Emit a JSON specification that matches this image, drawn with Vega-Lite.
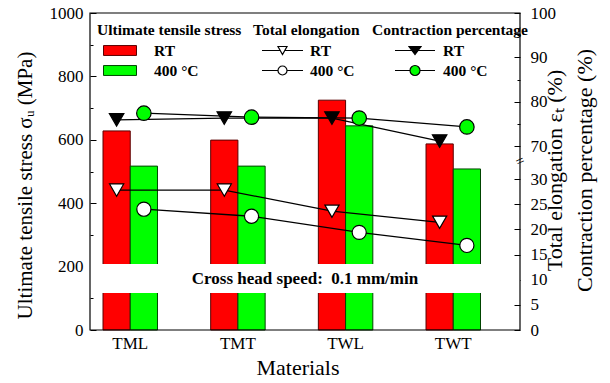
{
  "$schema": "https://vega.github.io/schema/vega-lite/v6.json",
  "width": 430,
  "height": 317,
  "autosize": {"type": "none"},
  "padding": {"left": 90, "top": 13, "right": 90, "bottom": 53},
  "config": {
    "view": {"stroke": null},
    "font": "Liberation Serif",
    "axis": {"labelColor": "black", "titleColor": "black", "tickColor": "black", "tickWidth": 1, "grid": false, "domain": false, "zindex": 1, "titleFontWeight": "normal"},
    "legend": {"labelColor": "black", "titleColor": "black", "labelFont": "Liberation Serif", "titleFont": "Liberation Serif", "labelFontSize": 15.5, "labelFontWeight": "bold", "titleFontSize": 15.5, "titleFontWeight": "bold", "padding": 0, "rowPadding": 0, "clipHeight": 20, "titlePadding": 2, "symbolOpacity": 1}
  },
  "datasets": {
    "bars": [
      {"material": "TML", "condition": "RT", "uts": 628},
      {"material": "TML", "condition": "400 °C", "uts": 517},
      {"material": "TMT", "condition": "RT", "uts": 599},
      {"material": "TMT", "condition": "400 °C", "uts": 517},
      {"material": "TWL", "condition": "RT", "uts": 725},
      {"material": "TWL", "condition": "400 °C", "uts": 644},
      {"material": "TWT", "condition": "RT", "uts": 587},
      {"material": "TWT", "condition": "400 °C", "uts": 508}
    ],
    "elong": [
      {"material": "TML", "condition": "RT", "elongation": 27.8},
      {"material": "TMT", "condition": "RT", "elongation": 27.8},
      {"material": "TWL", "condition": "RT", "elongation": 23.6},
      {"material": "TWT", "condition": "RT", "elongation": 21.4},
      {"material": "TML", "condition": "400 °C", "elongation": 24.0},
      {"material": "TMT", "condition": "400 °C", "elongation": 22.6},
      {"material": "TWL", "condition": "400 °C", "elongation": 19.4},
      {"material": "TWT", "condition": "400 °C", "elongation": 16.8}
    ],
    "contr": [
      {"material": "TML", "condition": "RT", "contraction": 75.9},
      {"material": "TMT", "condition": "RT", "contraction": 76.3},
      {"material": "TWL", "condition": "RT", "contraction": 76.3},
      {"material": "TWT", "condition": "RT", "contraction": 71.1},
      {"material": "TML", "condition": "400 °C", "contraction": 77.4},
      {"material": "TMT", "condition": "400 °C", "contraction": 76.5},
      {"material": "TWL", "condition": "400 °C", "contraction": 76.3},
      {"material": "TWT", "condition": "400 °C", "contraction": 74.3}
    ],
    "note": [{"text": "Cross head speed:\u00a0 0.1 mm/min"}],
    "brk": [{"text": "="}],
    "one": [{}]
  },
  "layer": [
    {
      "layer": [
        {
          "data": {"name": "bars"},
          "mark": {"type": "bar", "strokeWidth": 1},
          "encoding": {
            "x": {"field": "material", "type": "nominal", "sort": ["TML", "TMT", "TWL", "TWT"],
              "scale": {"domain": ["TML", "TMT", "TWL", "TWT"], "range": [13, 390.5], "paddingInner": 0.494, "paddingOuter": 0},
              "axis": {"orient": "bottom", "title": "Materials", "ticks": false, "labelAngle": 0, "labelFontSize": 17, "labelPadding": 5, "titleFontSize": 22, "titleX": 207.5, "titleY": 44, "titleBaseline": "alphabetic"}},
            "xOffset": {"field": "condition", "type": "nominal", "sort": ["RT", "400 °C"], "scale": {"domain": ["RT", "400 °C"], "paddingInner": 0, "paddingOuter": 0}},
            "y": {"field": "uts", "type": "quantitative",
              "scale": {"domain": [0, 1000], "nice": false},
              "axis": {"orient": "left", "title": "Ultimate tensile stress σᵤ (MPa)", "format": "d",
                "values": [0, 100, 200, 300, 400, 500, 600, 700, 800, 900, 1000],
                "labelExpr": "datum.value % 200 === 0 ? datum.label : ''",
                "tickSize": {"condition": {"test": "datum.value % 200 !== 0", "value": -3}, "value": -6},
                "labelFontSize": 17, "labelPadding": 13, "titleFontSize": 21, "titleAngle": 270, "titleX": -65, "titleY": 172, "titleBaseline": "middle", "titleAlign": "center"}},
            "fill": {"field": "condition", "type": "nominal", "sort": ["RT", "400 °C"],
              "scale": {"domain": ["RT", "400 °C"], "range": ["#ff0000", "#00ff00"]},
              "legend": {"title": "Ultimate tensile stress", "orient": "none", "legendX": 7, "legendY": 10, "symbolType": "M-1,-0.3H1V0.3H-1Z", "symbolSize": 1089, "symbolStrokeWidth": 1, "symbolOffset": 6, "labelOffset": 17}},
            "stroke": {"field": "condition", "type": "nominal", "sort": ["RT", "400 °C"],
              "scale": {"domain": ["RT", "400 °C"], "range": ["#5a0000", "#004400"]},
              "legend": {"title": "Ultimate tensile stress", "orient": "none", "legendX": 7, "legendY": 10, "symbolType": "M-1,-0.3H1V0.3H-1Z", "symbolSize": 1089, "symbolStrokeWidth": 1, "symbolOffset": 6, "labelOffset": 17}}
          }
        },
        {
          "data": {"name": "one"},
          "mark": {"type": "rect", "fill": "white", "stroke": null},
          "encoding": {
            "y": {"datum": 117, "type": "quantitative", "scale": {"domain": [0, 1000], "nice": false},
              "axis": {"orient": "left", "title": "Ultimate tensile stress σᵤ (MPa)", "format": "d",
                "values": [0, 100, 200, 300, 400, 500, 600, 700, 800, 900, 1000],
                "labelExpr": "datum.value % 200 === 0 ? datum.label : ''",
                "tickSize": {"condition": {"test": "datum.value % 200 !== 0", "value": -3}, "value": -6},
                "labelFontSize": 17, "labelPadding": 13, "titleFontSize": 21, "titleAngle": 270, "titleX": -65, "titleY": 172, "titleBaseline": "middle", "titleAlign": "center"}},
            "y2": {"datum": 208}
          }
        },
        {
          "data": {"name": "note"},
          "mark": {"type": "text", "fontSize": 17, "fontWeight": "bold", "color": "black", "align": "center", "baseline": "middle", "x": {"expr": "width / 2"}},
          "encoding": {
            "y": {"datum": 161, "type": "quantitative", "scale": {"domain": [0, 1000], "nice": false},
              "axis": {"orient": "left", "title": "Ultimate tensile stress σᵤ (MPa)", "format": "d",
                "values": [0, 100, 200, 300, 400, 500, 600, 700, 800, 900, 1000],
                "labelExpr": "datum.value % 200 === 0 ? datum.label : ''",
                "tickSize": {"condition": {"test": "datum.value % 200 !== 0", "value": -3}, "value": -6},
                "labelFontSize": 17, "labelPadding": 13, "titleFontSize": 21, "titleAngle": 270, "titleX": -65, "titleY": 172, "titleBaseline": "middle", "titleAlign": "center"}},
            "text": {"field": "text"}
          }
        }
      ]
    },
    {
      "layer": [
        {
          "data": {"name": "elong"},
          "mark": {"type": "line", "color": "black", "strokeWidth": 1.3},
          "encoding": {
            "x": {"field": "material", "type": "nominal", "sort": ["TML", "TMT", "TWL", "TWT"], "scale": {"domain": ["TML", "TMT", "TWL", "TWT"], "range": [13, 390.5], "paddingInner": 0.494, "paddingOuter": 0}},
            "xOffset": {"field": "condition", "type": "nominal", "sort": ["RT", "400 °C"], "scale": {"domain": ["RT", "400 °C"], "paddingInner": 0, "paddingOuter": 0}},
            "y": {"field": "elongation", "type": "quantitative",
              "scale": {"domain": [0, 30], "range": [317, 166], "nice": false, "zero": false},
              "axis": {"orient": "right",
                "title": ["Total elongation εₜ (%)", "Contraction percentage (%)"],
                "values": [0, 2.5, 5, 7.5, 10, 12.5, 15, 17.5, 20, 22.5, 25, 27.5, 30],
                "labelExpr": "datum.value % 5 === 0 ? datum.label : ''",
                "tickSize": {"condition": {"test": "datum.value % 5 !== 0", "value": -3}, "value": -6},
                "labelFontSize": 17, "labelPadding": 16, "titleFontSize": 22, "titleAngle": 270, "titleX": 34, "titleY": 157, "titleBaseline": "middle", "titleAlign": "center", "titleLineHeight": 30}},
            "detail": {"field": "condition"}
          }
        },
        {
          "data": {"name": "elong"},
          "mark": {"type": "point", "filled": true, "fill": "white", "stroke": "black", "strokeWidth": 1.2, "size": 200, "opacity": 1},
          "encoding": {
            "x": {"field": "material", "type": "nominal", "sort": ["TML", "TMT", "TWL", "TWT"], "scale": {"domain": ["TML", "TMT", "TWL", "TWT"], "range": [13, 390.5], "paddingInner": 0.494, "paddingOuter": 0}},
            "xOffset": {"field": "condition", "type": "nominal", "sort": ["RT", "400 °C"], "scale": {"domain": ["RT", "400 °C"], "paddingInner": 0, "paddingOuter": 0}},
            "y": {"field": "elongation", "type": "quantitative"},
            "shape": {"field": "condition", "type": "nominal", "sort": ["RT", "400 °C"],
              "scale": {"domain": ["RT", "400 °C"], "range": ["triangle-down", "circle"]},
              "legend": null}
          }
        },
        {
          "data": {"name": "brk"},
          "mark": {"type": "text", "fontSize": 15, "color": "black", "align": "center", "baseline": "middle", "angle": 335, "x": {"expr": "width"}},
          "encoding": {
            "y": {"datum": 33.6, "type": "quantitative"},
            "text": {"field": "text"}
          }
        }
      ]
    },
    {
      "data": {"name": "contr"},
      "layer": [
        {
          "mark": {"type": "line", "color": "black", "strokeWidth": 1.3},
          "encoding": {
            "x": {"field": "material", "type": "nominal", "sort": ["TML", "TMT", "TWL", "TWT"], "scale": {"domain": ["TML", "TMT", "TWL", "TWT"], "range": [13, 390.5], "paddingInner": 0.494, "paddingOuter": 0}},
            "xOffset": {"field": "condition", "type": "nominal", "sort": ["RT", "400 °C"], "scale": {"domain": ["RT", "400 °C"], "paddingInner": 0, "paddingOuter": 0}},
            "y": {"field": "contraction", "type": "quantitative",
              "scale": {"domain": [70, 100], "range": [133, 0], "nice": false, "zero": false},
              "axis": {"orient": "right", "title": null,
                "values": [70, 75, 80, 85, 90, 95, 100],
                "labelExpr": "datum.value % 10 === 0 ? datum.label : ''",
                "tickSize": {"condition": {"test": "datum.value % 10 !== 0", "value": -3}, "value": -6},
                "labelFontSize": 17, "labelPadding": 16}},
            "detail": {"field": "condition"}
          }
        },
        {
          "mark": {"type": "point", "filled": true, "stroke": "black", "strokeWidth": 1.2, "size": 210, "opacity": 1},
          "encoding": {
            "x": {"field": "material", "type": "nominal", "sort": ["TML", "TMT", "TWL", "TWT"], "scale": {"domain": ["TML", "TMT", "TWL", "TWT"], "range": [13, 390.5], "paddingInner": 0.494, "paddingOuter": 0}},
            "xOffset": {"field": "condition", "type": "nominal", "sort": ["RT", "400 °C"], "scale": {"domain": ["RT", "400 °C"], "paddingInner": 0, "paddingOuter": 0}},
            "y": {"field": "contraction", "type": "quantitative"},
            "shape": {"field": "condition", "type": "nominal", "sort": ["RT", "400 °C"],
              "scale": {"domain": ["RT", "400 °C"], "range": ["triangle-down", "circle"]},
              "legend": null},
            "fill": {"field": "condition", "type": "nominal", "sort": ["RT", "400 °C"],
              "scale": {"domain": ["RT", "400 °C"], "range": ["black", "#00ff00"]},
              "legend": null}
          }
        }
      ]
    },
    {
      "data": {"name": "elong"},
      "transform": [{"filter": "false"}],
      "mark": {"type": "point", "filled": true, "stroke": "black", "strokeWidth": 1.2, "opacity": 1},
      "encoding": {
        "shape": {"field": "condition", "type": "nominal", "sort": ["RT", "400 °C"],
          "scale": {"domain": ["RT", "400 °C"], "range": ["M-1,0H-0.11M0.11,0H1M-0.22,-0.195L0.22,-0.195L0,0.195Z", "M-1,0H-0.22M0.22,0H1M0.22,0A0.22,0.22,0,1,1,-0.22,0A0.22,0.22,0,1,1,0.22,0Z"]},
          "legend": {"title": "Total elongation", "orient": "none", "legendX": 163, "legendY": 10, "symbolSize": 1681, "symbolStrokeWidth": 1.2, "symbolStrokeColor": "black", "symbolOpacity": 1, "symbolOffset": 8, "labelOffset": 6,
            "encode": {"symbols": {"update": {"stroke": {"value": "black"}, "strokeWidth": {"value": 1.2}, "opacity": {"value": 1}}}}}},
        "fill": {"field": "condition", "type": "nominal", "sort": ["RT", "400 °C"],
          "scale": {"domain": ["RT", "400 °C"], "range": ["white", "white"]},
          "legend": {"title": "Total elongation", "orient": "none", "legendX": 163, "legendY": 10, "symbolSize": 1681, "symbolStrokeWidth": 1.2, "symbolStrokeColor": "black", "symbolOpacity": 1, "symbolOffset": 8, "labelOffset": 6,
            "encode": {"symbols": {"update": {"stroke": {"value": "black"}, "strokeWidth": {"value": 1.2}, "opacity": {"value": 1}}}}}}
      }
    },
    {
      "data": {"name": "contr"},
      "transform": [{"filter": "false"}],
      "mark": {"type": "point", "filled": true, "stroke": "black", "strokeWidth": 1.2, "opacity": 1},
      "encoding": {
        "shape": {"field": "condition", "type": "nominal", "sort": ["RT", "400 °C"],
          "scale": {"domain": ["RT", "400 °C"], "range": ["M-1,0H1M-0.3,-0.2L0.3,-0.2L0,0.2Z", "M-1,0H-0.25M0.25,0H1M0.25,0A0.25,0.25,0,1,1,-0.25,0A0.25,0.25,0,1,1,0.25,0Z"]},
          "legend": {"title": "Contraction percentage", "orient": "none", "legendX": 282, "legendY": 10, "symbolSize": 1600, "symbolStrokeWidth": 1.2, "symbolStrokeColor": "black", "symbolOpacity": 1, "symbolOffset": 22, "labelOffset": 7,
            "encode": {"symbols": {"update": {"stroke": {"value": "black"}, "strokeWidth": {"value": 1.2}, "opacity": {"value": 1}}}}}},
        "fill": {"field": "condition", "type": "nominal", "sort": ["RT", "400 °C"],
          "scale": {"domain": ["RT", "400 °C"], "range": ["black", "#00ff00"]},
          "legend": {"title": "Contraction percentage", "orient": "none", "legendX": 282, "legendY": 10, "symbolSize": 1600, "symbolStrokeWidth": 1.2, "symbolStrokeColor": "black", "symbolOpacity": 1, "symbolOffset": 22, "labelOffset": 7,
            "encode": {"symbols": {"update": {"stroke": {"value": "black"}, "strokeWidth": {"value": 1.2}, "opacity": {"value": 1}}}}}}
      }
    },
    {
      "data": {"name": "one"},
      "mark": {"type": "rect", "filled": false, "stroke": "black", "strokeWidth": 1.2},
      "encoding": {}
    }
  ],
  "resolve": {
    "scale": {"y": "independent", "fill": "independent", "shape": "independent", "stroke": "independent"},
    "axis": {"y": "independent"},
    "legend": {"fill": "independent", "shape": "independent", "stroke": "independent"}
  }
}
